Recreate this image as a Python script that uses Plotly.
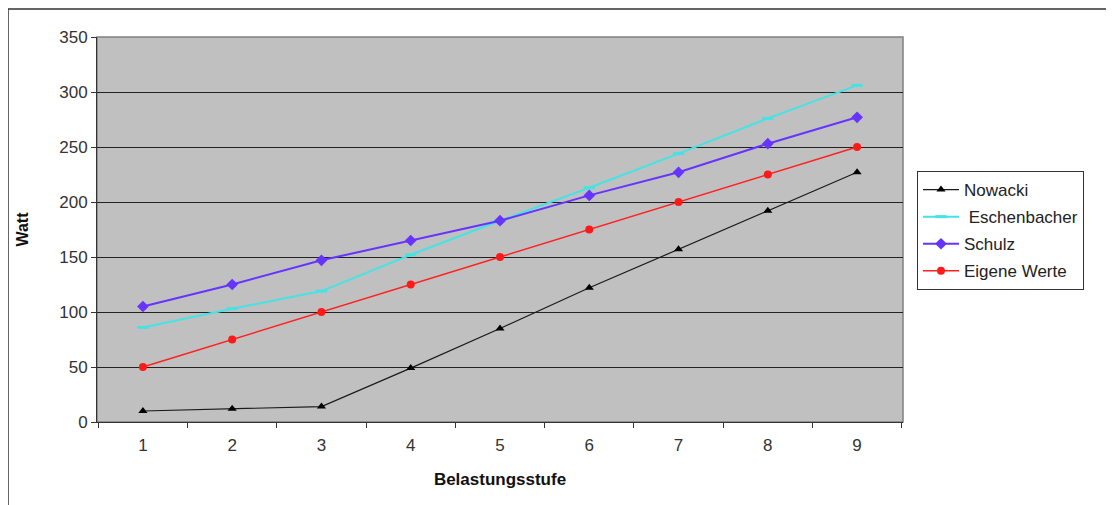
import plotly.graph_objects as go

categories = ["1", "2", "3", "4", "5", "6", "7", "8", "9"]
nowacki = [10, 12, 14, 49, 85, 122, 157, 192, 227]
eschenbacher = [86, 103, 119, 152, 183, 213, 244, 276, 306]
schulz = [105, 125, 147, 165, 183, 206, 227, 253, 277]
eigene = [50, 75, 100, 125, 150, 175, 200, 225, 250]
y_ticks = [0, 50, 100, 150, 200, 250, 300, 350]

# page body has an 8px margin, so the figure is drawn 8px smaller and shifted
OFF = 8
W, H = 1114 - OFF, 505 - OFF
L, R, T, B = 97 - OFF, 903 - OFF, 37 - OFF, 422 - OFF
pw, ph = R - L, B - T

def px(x):
    return (x - OFF - L) / pw

def py(y):
    return (B - (y - OFF)) / ph

font = "Liberation Sans, Arial, sans-serif"

fig = go.Figure()
fig.add_trace(go.Scatter(x=categories, y=nowacki, name="Nowacki", mode="lines+markers",
                         legendgroup="a",
                         line=dict(color="#1a1a1a", width=1.2),
                         marker=dict(symbol="triangle-up", size=8, color="#000000")))
fig.add_trace(go.Scatter(x=categories, y=eschenbacher, name=" Eschenbacher", mode="lines+markers",
                         legendgroup="b",
                         line=dict(color="#45e3e3", width=2),
                         marker=dict(symbol="line-ew-open", size=8, color="#45e3e3",
                                     line=dict(color="#45e3e3", width=3))))
fig.add_trace(go.Scatter(x=categories, y=schulz, name="Schulz", mode="lines+markers",
                         legendgroup="c",
                         line=dict(color="#6633ff", width=2),
                         marker=dict(symbol="diamond", size=9, color="#6633ff")))
fig.add_trace(go.Scatter(x=categories, y=eigene, name="Eigene Werte", mode="lines+markers",
                         legendgroup="d",
                         line=dict(color="#ff2020", width=1.5),
                         marker=dict(symbol="circle", size=8, color="#ff1a1a")))

fig.update_layout(
    width=W, height=H,
    margin=dict(l=L, r=W - R, t=T, b=H - B, pad=0),
    paper_bgcolor="white",
    plot_bgcolor="#c0c0c0",
    font=dict(family=font, size=17, color="#222222"),
    showlegend=True,
    legend=dict(x=px(917), y=py(171), xanchor="left", yanchor="top",
                bordercolor="#333333", borderwidth=1, bgcolor="white",
                font=dict(family=font, size=17, color="#222222"),
                traceorder="grouped", tracegroupgap=2, itemwidth=36),
    xaxis=dict(type="category", tickson="boundaries", ticks="outside", ticklen=5,
               tickcolor="#333333", showgrid=False, showline=True, linecolor="#333333",
               linewidth=1, zeroline=False, ticklabelstandoff=8,
               title=dict(text="<b>Belastungsstufe</b>", font=dict(size=17, color="#111111"), standoff=18),
               tickfont=dict(size=17, color="#333333")),
    yaxis=dict(range=[0, 350], tickvals=y_ticks, ticks="outside", ticklen=5,
               tickcolor="#333333", showgrid=True, gridcolor="#222222", gridwidth=1.3,
               showline=True, linecolor="#333333", linewidth=1, zeroline=False,
               title=dict(text="<b>Watt</b>", font=dict(size=16, color="#111111"), standoff=26),
               tickfont=dict(size=17, color="#333333")),
    shapes=[
        dict(type="rect", xref="paper", yref="paper", x0=0, x1=1, y0=0, y1=1,
             line=dict(color="#808080", width=1.5), layer="below"),
        dict(type="rect", xref="paper", yref="paper", x0=px(8), x1=px(1125), y0=py(9), y1=py(515),
             line=dict(color="#333333", width=1.5), layer="below"),
    ],
)

fig.write_html("out.html")
